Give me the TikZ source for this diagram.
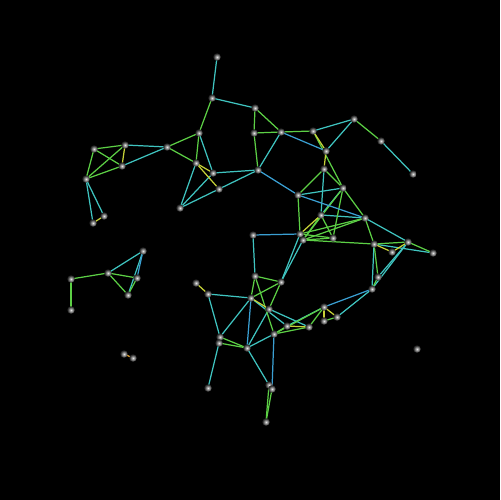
\documentclass[tikz,border=0pt]{standalone}
\usetikzlibrary{backgrounds}
\definecolor{tealedge}{HTML}{3FC4C0}
\definecolor{greenedge}{HTML}{5CCF45}
\definecolor{yellowedge}{HTML}{C6D238}
\definecolor{blueedge}{HTML}{3A9FD2}
\definecolor{orangeedge}{HTML}{E0A030}
\begin{document}
\begin{tikzpicture}[x=0.02cm,y=-0.02cm,
    vert/.style={circle, inner sep=0pt, minimum size=0.15cm, inner color=gray!20, outer color=black!80!gray},
    te/.style={draw=tealedge, line width=0.7pt},
    gr/.style={draw=greenedge, line width=0.7pt},
    ye/.style={draw=yellowedge, line width=0.7pt},
    bl/.style={draw=blueedge, line width=0.7pt},
    og/.style={draw=orangeedge, line width=0.7pt}]
    \useasboundingbox (0,0) rectangle (500,500);
    % vertices
    \node[vert] (a1) at (217,57) {};
    \node[vert] (a2) at (212,98) {};
    \node[vert] (a3) at (255,108) {};
    \node[vert] (a4) at (254,133) {};
    \node[vert] (a5) at (199,133) {};
    \node[vert] (a6) at (167,147) {};
    \node[vert] (a7) at (125,145) {};
    \node[vert] (a8) at (94,149) {};
    \node[vert] (a9) at (122,166) {};
    \node[vert] (a10) at (86,179) {};
    \node[vert] (a11) at (104,216) {};
    \node[vert] (a12) at (93,223) {};
    \node[vert] (a13) at (196,163) {};
    \node[vert] (a14) at (213,173) {};
    \node[vert] (a15) at (219,189) {};
    \node[vert] (a16) at (180,208) {};
    \node[vert] (a17) at (258,170) {};
    \node[vert] (b1) at (281,132) {};
    \node[vert] (b2) at (313,131) {};
    \node[vert] (b3) at (354,119) {};
    \node[vert] (b4) at (381,141) {};
    \node[vert] (b5) at (413,174) {};
    \node[vert] (b6) at (326,151) {};
    \node[vert] (b7) at (324,169) {};
    \node[vert] (b8) at (343,188) {};
    \node[vert] (b9) at (298,195) {};
    \node[vert] (b10) at (253,235) {};
    \node[vert] (b11) at (365,218) {};
    \node[vert] (b12) at (321,215) {};
    \node[vert] (c1) at (300,234) {};
    \node[vert] (c2) at (303,240) {};
    \node[vert] (c3) at (333,238) {};
    \node[vert] (c4) at (374,244) {};
    \node[vert] (c5) at (408,242) {};
    \node[vert] (c6) at (433,253) {};
    \node[vert] (c7) at (392,252) {};
    \node[vert] (c8) at (378,277) {};
    \node[vert] (c9) at (372,289) {};
    \node[vert] (d1) at (196,283) {};
    \node[vert] (d2) at (208,294) {};
    \node[vert] (d3) at (255,276) {};
    \node[vert] (d4) at (281,282) {};
    \node[vert] (d5) at (251,298) {};
    \node[vert] (d6) at (269,309) {};
    \node[vert] (d7) at (220,337) {};
    \node[vert] (d8) at (219,343) {};
    \node[vert] (d9) at (247,348) {};
    \node[vert] (d10) at (274,334) {};
    \node[vert] (d11) at (287,326) {};
    \node[vert] (d12) at (309,327) {};
    \node[vert] (d13) at (324,307) {};
    \node[vert] (d14) at (337,317) {};
    \node[vert] (d15) at (324,321) {};
    \node[vert] (d16) at (208,388) {};
    \node[vert] (d17) at (269,385) {};
    \node[vert] (d18) at (272,389) {};
    \node[vert] (d19) at (266,422) {};
    \node[vert] (e1) at (71,279) {};
    \node[vert] (e2) at (71,310) {};
    \node[vert] (e3) at (108,273) {};
    \node[vert] (e4) at (143,251) {};
    \node[vert] (e5) at (137,278) {};
    \node[vert] (e6) at (128,295) {};
    \node[vert] (e7) at (124,354) {};
    \node[vert] (e8) at (133,358) {};
    \node[vert] (f1) at (417,349) {};
    % edges, behind the vertices
    \begin{scope}[on background layer]
    \fill[black] (0,0) rectangle (500,500);
    \foreach \u/\v in {a1/a2, a2/a3, a5/a14, a6/a9, a6/a7, a10/a11, a10/a12, a13/a16, a14/a16,
        a16/a15, a15/a17, a14/a17, b1/a17, b2/b3, b4/b5, b3/b6, b9/b8, b7/b12, b12/b11,
        c4/c6, b11/c5, c4/c9, c5/c8, c5/c9, b10/d3, c1/d4, c2/d4, d2/d5, d2/d7, d5/d7,
        d5/d11, d6/d9, d6/d12, d9/d10, d9/d17, d11/d13, d14/c9, e3/e4, e4/e6, d16/d8, b8/b12}
        \draw[te] (\u.center) -- (\v.center);
    \foreach \u/\v in {a2/a5, a3/a4, a4/a17, a3/b1, a4/b1, b1/b2, b3/b4, a5/a13, a5/a6, a6/a13,
        a7/a8, a7/a10, a8/a10, a8/a9, a9/a10, b2/b8, b7/b8, b7/b9, b8/b11, b9/c1,
        b12/c3, c1/c3, c2/c3, b8/c3, b11/c4, c2/c4, c4/c5, c5/c6, c4/c8, d3/d4, d3/d5,
        d3/d10, d4/d5, d4/d6, d7/d9, d8/d9, d10/d11, d10/d13, d12/d13, d15/d14, d17/d19,
        d18/d19, e1/e2, e1/e3, e3/e5, e3/e6, e5/e6, c8/c9, b12/c2, b11/c2, d10/d12, c1/c2,
        c1/b11, c2/b8}
        \draw[gr] (\u.center) -- (\v.center);
    \foreach \u/\v in {a11/a12, a13/a14, a13/a15, a7/a9, b2/b6, b6/b7, c4/c7, c7/c5, d1/d2,
        d5/d6, d11/d12, d13/d15, d13/d14, b12/c1}
        \draw[ye] (\u.center) -- (\v.center);
    \foreach \u/\v in {b1/b6, a17/b9, b10/c1, d5/d9, d10/d18, d13/c9, e4/e5, b9/b11}
        \draw[bl] (\u.center) -- (\v.center);
    \draw[og] (e7.center) -- (e8.center);
    \end{scope}
\end{tikzpicture}
\end{document}
